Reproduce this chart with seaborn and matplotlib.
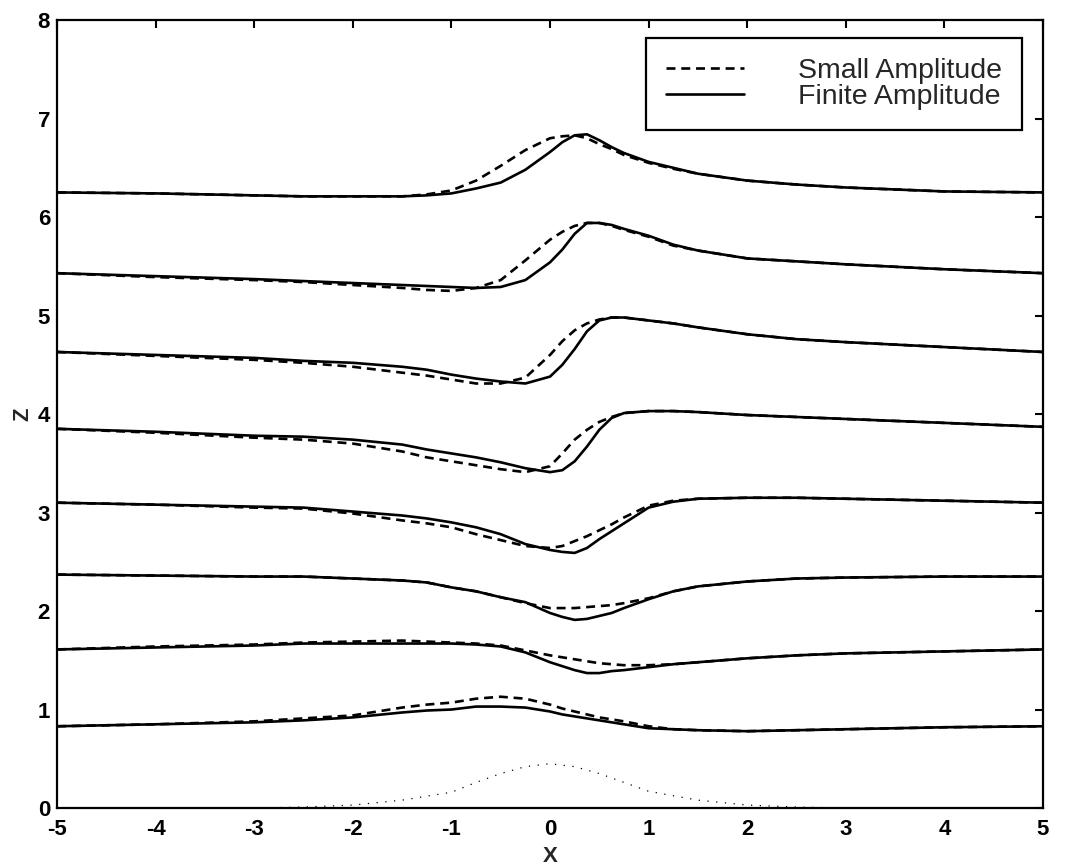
import numpy as np
import pandas as pd
import matplotlib
matplotlib.use("Agg")
import matplotlib.pyplot as plt
from matplotlib.lines import Line2D
import seaborn as sns

# horizontal stations shared by every streamline
x = [-5, -4, -3, -2.5, -2, -1.5, -1.25, -1, -0.75, -0.5, -0.25, 0, 0.125,
     0.25, 0.375, 0.5, 0.625, 0.75, 1, 1.25, 1.5, 2, 2.5, 3, 4, 5]

# streamline heights, small-amplitude (linear) theory
small_amp = [
    [6.25, 6.24, 6.22, 6.21, 6.21, 6.21, 6.23, 6.27, 6.37, 6.52, 6.68, 6.80, 6.82,
     6.83, 6.80, 6.74, 6.69, 6.63, 6.55, 6.49, 6.44, 6.37, 6.33, 6.30, 6.26, 6.25],
    [5.43, 5.39, 5.36, 5.34, 5.31, 5.28, 5.26, 5.25, 5.28, 5.36, 5.56, 5.77, 5.85,
     5.91, 5.94, 5.94, 5.91, 5.87, 5.80, 5.71, 5.66, 5.58, 5.55, 5.52, 5.47, 5.43],
    [4.63, 4.59, 4.55, 4.52, 4.48, 4.42, 4.39, 4.35, 4.31, 4.31, 4.37, 4.60, 4.74,
     4.85, 4.92, 4.96, 4.98, 4.98, 4.95, 4.92, 4.88, 4.81, 4.76, 4.73, 4.68, 4.63],
    [3.85, 3.81, 3.76, 3.74, 3.70, 3.62, 3.56, 3.52, 3.48, 3.44, 3.41, 3.47, 3.60,
     3.74, 3.84, 3.92, 3.97, 4.01, 4.03, 4.03, 4.02, 3.99, 3.97, 3.95, 3.91, 3.87],
    [3.10, 3.08, 3.05, 3.04, 2.99, 2.92, 2.89, 2.85, 2.78, 2.72, 2.66, 2.64, 2.66,
     2.71, 2.76, 2.82, 2.88, 2.95, 3.07, 3.12, 3.14, 3.15, 3.15, 3.14, 3.12, 3.10],
    [2.37, 2.36, 2.35, 2.35, 2.33, 2.31, 2.29, 2.24, 2.20, 2.14, 2.08, 2.03, 2.03,
     2.03, 2.04, 2.05, 2.06, 2.08, 2.13, 2.20, 2.25, 2.30, 2.33, 2.34, 2.35, 2.35],
    [1.61, 1.64, 1.66, 1.68, 1.69, 1.70, 1.69, 1.68, 1.67, 1.65, 1.60, 1.55, 1.53,
     1.51, 1.49, 1.47, 1.46, 1.45, 1.45, 1.46, 1.48, 1.52, 1.55, 1.57, 1.59, 1.61],
    [0.83, 0.85, 0.88, 0.91, 0.94, 1.02, 1.05, 1.07, 1.11, 1.13, 1.11, 1.05, 1.01,
     0.98, 0.95, 0.92, 0.90, 0.88, 0.83, 0.80, 0.79, 0.78, 0.79, 0.80, 0.82, 0.83],
]

# streamline heights, finite-amplitude (nonlinear) theory
finite_amp = [
    [6.25, 6.24, 6.22, 6.21, 6.21, 6.21, 6.22, 6.24, 6.29, 6.35, 6.48, 6.66, 6.76,
     6.83, 6.84, 6.78, 6.71, 6.65, 6.56, 6.50, 6.44, 6.37, 6.33, 6.30, 6.26, 6.25],
    [5.43, 5.40, 5.37, 5.35, 5.33, 5.31, 5.30, 5.29, 5.28, 5.29, 5.36, 5.54, 5.67,
     5.83, 5.94, 5.94, 5.92, 5.88, 5.81, 5.72, 5.66, 5.58, 5.55, 5.52, 5.47, 5.43],
    [4.63, 4.60, 4.57, 4.54, 4.52, 4.48, 4.45, 4.40, 4.36, 4.33, 4.31, 4.38, 4.50,
     4.66, 4.84, 4.95, 4.98, 4.98, 4.95, 4.92, 4.88, 4.81, 4.76, 4.73, 4.68, 4.63],
    [3.85, 3.82, 3.78, 3.77, 3.74, 3.69, 3.64, 3.60, 3.56, 3.51, 3.45, 3.41, 3.43,
     3.52, 3.67, 3.84, 3.96, 4.01, 4.03, 4.03, 4.02, 3.99, 3.97, 3.95, 3.91, 3.87],
    [3.10, 3.08, 3.06, 3.05, 3.01, 2.97, 2.94, 2.90, 2.85, 2.78, 2.68, 2.62, 2.60,
     2.59, 2.64, 2.73, 2.81, 2.89, 3.05, 3.11, 3.14, 3.15, 3.15, 3.14, 3.12, 3.10],
    [2.37, 2.36, 2.35, 2.35, 2.33, 2.31, 2.29, 2.24, 2.20, 2.14, 2.09, 1.98, 1.94,
     1.91, 1.92, 1.95, 1.98, 2.03, 2.12, 2.20, 2.25, 2.30, 2.33, 2.34, 2.35, 2.35],
    [1.61, 1.63, 1.65, 1.67, 1.67, 1.67, 1.67, 1.67, 1.66, 1.64, 1.58, 1.48, 1.44,
     1.40, 1.37, 1.37, 1.39, 1.40, 1.43, 1.46, 1.48, 1.52, 1.55, 1.57, 1.59, 1.61],
    [0.83, 0.85, 0.87, 0.89, 0.92, 0.97, 0.99, 1.00, 1.03, 1.03, 1.02, 0.98, 0.95,
     0.93, 0.91, 0.89, 0.87, 0.85, 0.81, 0.80, 0.79, 0.78, 0.79, 0.80, 0.82, 0.83],
]

# obstacle (ridge) profile at the ground
ridge_x = [-3, -2.5, -2, -1.5, -1, -0.75, -0.5, -0.25, 0,
           0.25, 0.5, 0.75, 1, 1.5, 2, 2.5, 3]
ridge_z = [0.0, 0.01, 0.03, 0.08, 0.16, 0.26, 0.35, 0.42, 0.45,
           0.42, 0.35, 0.26, 0.17, 0.08, 0.03, 0.01, 0.0]

legend_labels = ["Small Amplitude", "Finite Amplitude"]

sns.set_style("white")
plt.rcParams["font.family"] = ["Liberation Sans", "DejaVu Sans"]
plt.rcParams["lines.solid_joinstyle"] = "round"
plt.rcParams["lines.dash_joinstyle"] = "round"

fig = plt.figure(figsize=(10.68, 8.68), dpi=100)
ax = fig.add_axes([0.0534, 0.0691, 0.9232, 0.9078])

dash = (3.4, 2.2)
lw = 1.9

for k in range(len(small_amp)):
    sns.lineplot(x=x, y=small_amp[k], ax=ax, color="black", linewidth=lw,
                 sort=False, estimator=None, legend=False,
                 linestyle=(0, dash))
    sns.lineplot(x=x, y=finite_amp[k], ax=ax, color="black", linewidth=lw,
                 sort=False, estimator=None, legend=False, linestyle="-")

sns.lineplot(x=ridge_x, y=ridge_z, ax=ax, color="black", linewidth=0.9,
             sort=False, estimator=None, legend=False,
             linestyle=(0, (1, 6)))

ax.set_xlim(-5, 5)
ax.set_ylim(0, 8)
ax.set_xticks(np.arange(-5, 6, 1))
ax.set_yticks(np.arange(0, 9, 1))
ax.set_xticklabels([f"{v:d}" for v in range(-5, 6)])
ax.set_yticklabels([f"{v:d}" for v in range(0, 9)])

for sp in ax.spines.values():
    sp.set_visible(True)
    sp.set_linewidth(1.6)
    sp.set_color("black")

ax.tick_params(axis="both", which="major", direction="in", length=6,
               width=1.5, top=True, right=True, labelsize=16,
               colors="black")
ax.tick_params(axis="x", pad=8)
ax.tick_params(axis="y", pad=5)
for lab in ax.get_xticklabels() + ax.get_yticklabels():
    lab.set_fontweight("bold")

ax.set_xlabel("X", fontsize=16, fontweight="bold", labelpad=4)
ax.set_ylabel("Z", fontsize=16, fontweight="bold", labelpad=3)

handles = [Line2D([], [], color="black", linewidth=lw, linestyle=(0, dash)),
           Line2D([], [], color="black", linewidth=lw, linestyle="-")]
leg = ax.legend(handles, legend_labels, loc="upper right",
                bbox_to_anchor=(0.9787, 0.9772), borderaxespad=0,
                fontsize=20.5, handlelength=2.75, handletextpad=1.9,
                labelspacing=0.0, borderpad=0.7, fancybox=False,
                framealpha=1, edgecolor="black")
leg.get_frame().set_linewidth(1.6)

fig.savefig("out.png", dpi=100, facecolor="white")
